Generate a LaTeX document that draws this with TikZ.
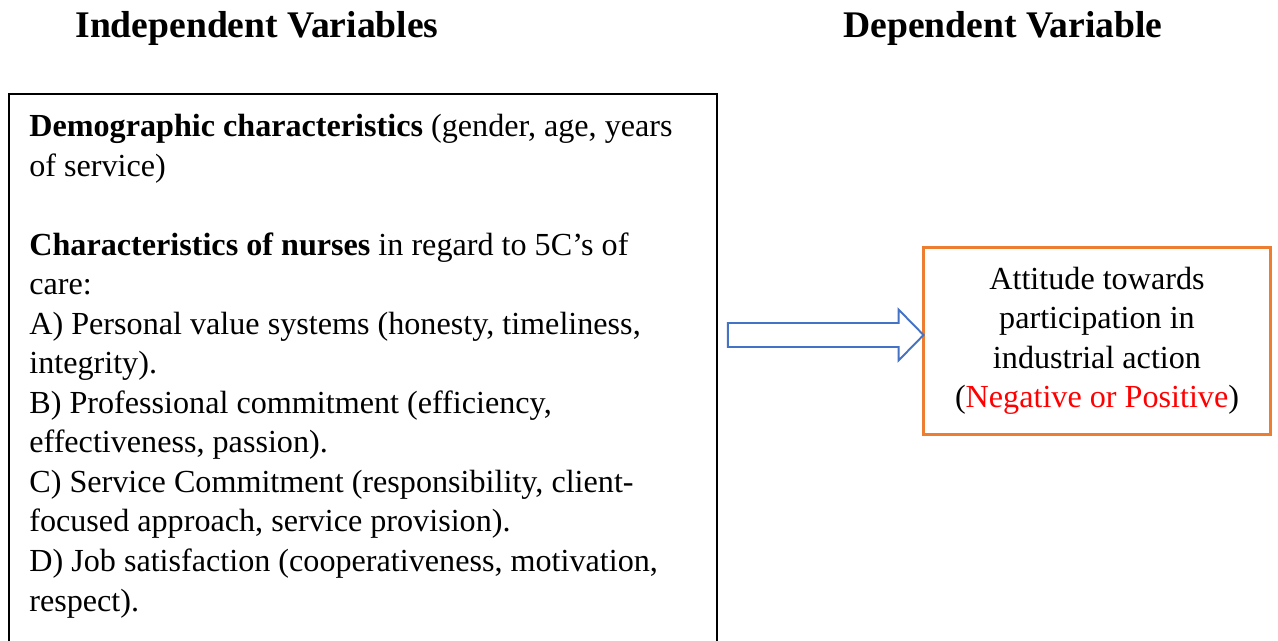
\documentclass[tikz,border=0pt]{standalone}
\usepackage{fontspec}
\setmainfont{Liberation Serif}
\usetikzlibrary{calc}
\definecolor{boxorange}{HTML}{ED7D31}
\definecolor{arrowblue}{HTML}{4472C4}
\definecolor{flagred}{HTML}{FF0000}
\tikzset{
    heading/.style={
        font=\fontsize{21.4}{26}\selectfont\bfseries, anchor=base
    },
    body/.style={
        font=\fontsize{18.3}{22.5}\selectfont
    }
}

\begin{document}
\begin{tikzpicture}[x=0.02cm, y=-0.02cm, line join=miter]

\clip (0,0) rectangle (1278,640);

\node[heading] (indep) at (257,37) {Independent Variables};
\node[heading] (dep) at (1003,37) {Dependent Variable};

% frame of the independent variables, open at the bottom
\node[draw, line width=1.5pt, outer sep=0pt, anchor=north west,
      minimum width=14.16cm, minimum height=12.8cm] (factors) at (9,94) {};

\node[body, align=left, anchor=north west, inner sep=0pt] (factorlist) at (29,114) {%
\textbf{Demographic characteristics} (gender, age, years\\
of service)\\[22.5pt]
\textbf{Characteristics of nurses} in regard to 5C’s of\\
care:\\
A) Personal value systems (honesty, timeliness,\\
integrity).\\
B) Professional commitment (efficiency,\\
effectiveness, passion).\\
C) Service Commitment (responsibility, client-\\
focused approach, service provision).\\
D) Job satisfaction (cooperativeness, motivation,\\
respect).};

\node[body, draw=boxorange, line width=1.5pt, outer sep=0pt, align=center,
      minimum width=6.94cm, minimum height=3.75cm, inner sep=0pt] (result) at (1097,341) {%
Attitude towards\\
participation in\\
industrial action\\
(\textcolor{flagred}{Negative or Positive})};

% hollow block arrow
\coordinate (tip) at ($(result.west)+(0,-6)$);
\coordinate (tail) at ($(factors.east |- tip)+(11,0)$);
\draw[arrowblue, line width=1.1pt]
  ($(tail)+(0,-12)$) -- ($(tip)+(-25,-12)$) -- ($(tip)+(-25,-25.5)$) -- (tip)
  -- ($(tip)+(-25,25.5)$) -- ($(tip)+(-25,12)$) -- ($(tail)+(0,12)$) -- cycle;

\end{tikzpicture}
\end{document}
